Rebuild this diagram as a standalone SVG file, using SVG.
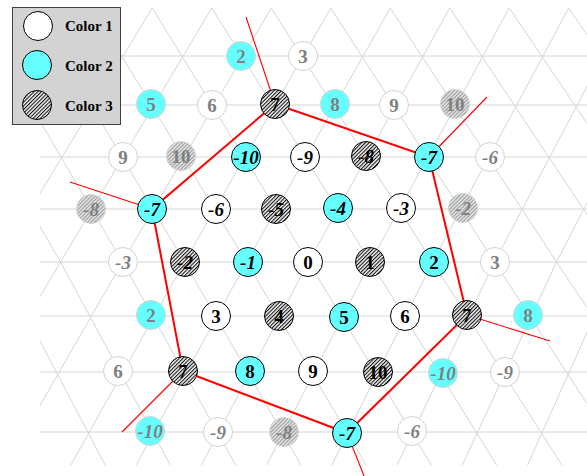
<svg xmlns="http://www.w3.org/2000/svg" width="587" height="476" viewBox="0 0 587 476">
<style>
text{font-family:"Liberation Serif","Times New Roman",serif;font-weight:bold;font-size:19px;text-anchor:middle}
.neg{font-style:italic}
.in circle{stroke:#000;stroke-width:1}
.out circle{stroke:#d2d2d2;stroke-width:1}
.in text{fill:#000}
.out text{fill:#808080}
.w{fill:#fff}
.c{fill:#66ffff}
.h{fill:url(#hatch)}
.hg{fill:url(#hatchg)}
.grid{fill:none;stroke:#d6d6d6;stroke-width:1}
.thick{stroke:#ff0000;stroke-width:2;fill:none}
.thin{stroke:#ff0000;stroke-width:1.1;fill:none}
.leg{font-size:15px;text-anchor:start;fill:#000}
</style>
<defs>
<pattern id="hatch" patternUnits="userSpaceOnUse" width="2.6" height="2.6" patternTransform="rotate(45)">
<rect width="2.6" height="2.6" fill="#f2f2f2"/>
<line x1="0.5" y1="0" x2="0.5" y2="2.6" stroke="#111" stroke-width="1.1"/>
</pattern>
<pattern id="hatchg" patternUnits="userSpaceOnUse" width="2.6" height="2.6" patternTransform="rotate(45)">
<rect width="2.6" height="2.6" fill="#e4e4e4"/>
<line x1="0.5" y1="0" x2="0.5" y2="2.6" stroke="#9a9a9a" stroke-width="1.1"/>
</pattern>
<clipPath id="gclip"><rect x="40" y="8" width="547" height="457"/></clipPath>
</defs>
<rect width="587" height="476" fill="#fff"/>
<g id="lattice" clip-path="url(#gclip)">
<path class="grid" d="M40 56H587M40 105H587M40 157H587M40 209H587M40 262H587M40 316H587M40 372H587M40 432H587
M-145.25 8L-1.5 262L120.4 494M-85.75 8L60.5 262L186.1 494M-26.25 8L122.5 262L251.8 494M33.25 8L184.5 262L317.5 494M92.75 8L246.5 262L383.2 494M152.25 8L308.5 262L448.9 494M211.75 8L370.5 262L514.6 494M271.25 8L432.5 262L580.3 494M330.75 8L494.5 262L646 494M390.25 8L556.5 262L711.7 494M449.75 8L618.5 262M509.25 8L680.5 262M568.75 8L742.5 262
M33.25 8L-125.5 262M92.75 8L-63.5 262M152.25 8L-1.5 262L-142.4 494M211.75 8L60.5 262L-76.7 494M271.25 8L122.5 262L-11 494M330.75 8L184.5 262L54.7 494M390.25 8L246.5 262L120.4 494M449.75 8L308.5 262L186.1 494M509.25 8L370.5 262L251.8 494M568.75 8L432.5 262L317.5 494M628.25 8L494.5 262L383.2 494M687.75 8L556.5 262L448.9 494M747.25 8L618.5 262L514.6 494M806.75 8L680.5 262L580.3 494"/>
</g>
<g id="connectors">
<path class="thick" d="M275 104L429 157L467 315L347 433L183 371L152 209Z"/>
<path class="thin" d="M275 104L246 17M429 157L487 97M467 315L550 341M347 433L364 476M183 371L122 432M152 209L70 182"/>
</g>
<g id="legend">
<rect x="12.5" y="7.5" width="108" height="117" fill="#d3d3d3" stroke="#404040" stroke-width="1"/>
<circle cx="38" cy="26" r="14.5" fill="#fff" stroke="#000"/>
<circle cx="37" cy="65" r="14.5" fill="#66ffff" stroke="#000"/>
<circle cx="37" cy="105" r="14.5" fill="url(#hatch)" stroke="#000"/>
<text class="leg" x="65" y="31">Color 1</text>
<text class="leg" x="65" y="71">Color 2</text>
<text class="leg" x="65" y="111">Color 3</text>
</g>
<g id="nodes">
<g id="o-a2" class="out"><circle class="c" cx="241" cy="56" r="14.5"/><text x="241" y="62.5">2</text></g>
<g id="o-a3" class="out"><circle class="w" cx="303" cy="56" r="14.5"/><text x="303" y="62.5">3</text></g>
<g id="o-b5" class="out"><circle class="c" cx="151" cy="104" r="14.5"/><text x="151" y="110.5">5</text></g>
<g id="o-b6" class="out"><circle class="w" cx="212" cy="105" r="14.5"/><text x="212" y="111.5">6</text></g>
<g id="i-b7" class="in"><circle class="h" cx="275" cy="104" r="14.5"/><text x="275" y="110.5">7</text></g>
<g id="o-b8" class="out"><circle class="c" cx="335" cy="104" r="14.5"/><text x="335" y="110.5">8</text></g>
<g id="o-b9" class="out"><circle class="w" cx="394" cy="105" r="14.5"/><text x="394" y="111.5">9</text></g>
<g id="o-b10" class="out"><circle class="hg" cx="455" cy="104" r="14.5"/><text x="455" y="110.5">10</text></g>
<g id="o-c9" class="out"><circle class="w" cx="123" cy="157" r="14.5"/><text x="123" y="163.5">9</text></g>
<g id="o-c10" class="out"><circle class="hg" cx="181" cy="156" r="14.5"/><text x="181" y="162.5">10</text></g>
<g id="i-cm10" class="in"><circle class="c" cx="246" cy="157" r="14.5"/><text class="neg" x="246" y="163.5">-10</text></g>
<g id="i-cm9" class="in"><circle class="w" cx="305" cy="157" r="14.5"/><text class="neg" x="305" y="163.5">-9</text></g>
<g id="i-cm8" class="in"><circle class="h" cx="366" cy="156" r="14.5"/><text class="neg" x="366" y="162.5">-8</text></g>
<g id="i-cm7" class="in"><circle class="c" cx="429" cy="157" r="14.5"/><text class="neg" x="429" y="163.5">-7</text></g>
<g id="o-cm6" class="out"><circle class="w" cx="490" cy="157" r="14.5"/><text class="neg" x="490" y="163.5">-6</text></g>
<g id="o-dm8" class="out"><circle class="hg" cx="91" cy="209" r="14.5"/><text class="neg" x="91" y="215.5">-8</text></g>
<g id="i-dm7" class="in"><circle class="c" cx="152" cy="209" r="14.5"/><text class="neg" x="152" y="215.5">-7</text></g>
<g id="i-dm6" class="in"><circle class="w" cx="216" cy="209" r="14.5"/><text class="neg" x="216" y="215.5">-6</text></g>
<g id="i-dm5" class="in"><circle class="h" cx="276" cy="209" r="14.5"/><text class="neg" x="276" y="215.5">-5</text></g>
<g id="i-dm4" class="in"><circle class="c" cx="338" cy="208" r="14.5"/><text class="neg" x="338" y="214.5">-4</text></g>
<g id="i-dm3" class="in"><circle class="w" cx="401" cy="208" r="14.5"/><text class="neg" x="401" y="214.5">-3</text></g>
<g id="o-dm2" class="out"><circle class="hg" cx="463" cy="208" r="14.5"/><text class="neg" x="463" y="214.5">-2</text></g>
<g id="o-em3" class="out"><circle class="w" cx="123" cy="262" r="14.5"/><text class="neg" x="123" y="268.5">-3</text></g>
<g id="i-em2" class="in"><circle class="h" cx="185" cy="262" r="14.5"/><text class="neg" x="185" y="268.5">-2</text></g>
<g id="i-em1" class="in"><circle class="c" cx="248" cy="262" r="14.5"/><text class="neg" x="248" y="268.5">-1</text></g>
<g id="i-e0" class="in"><circle class="w" cx="308" cy="262" r="14.5"/><text x="308" y="268.5">0</text></g>
<g id="i-e1" class="in"><circle class="h" cx="370" cy="262" r="14.5"/><text x="370" y="268.5">1</text></g>
<g id="i-e2" class="in"><circle class="c" cx="434" cy="262" r="14.5"/><text x="434" y="268.5">2</text></g>
<g id="o-e3" class="out"><circle class="w" cx="495" cy="262" r="14.5"/><text x="495" y="268.5">3</text></g>
<g id="o-f2" class="out"><circle class="c" cx="151" cy="315" r="14.5"/><text x="151" y="321.5">2</text></g>
<g id="i-f3" class="in"><circle class="w" cx="216" cy="316" r="14.5"/><text x="216" y="322.5">3</text></g>
<g id="i-f4" class="in"><circle class="h" cx="279" cy="316" r="14.5"/><text x="279" y="322.5">4</text></g>
<g id="i-f5" class="in"><circle class="c" cx="344" cy="317" r="14.5"/><text x="344" y="323.5">5</text></g>
<g id="i-f6" class="in"><circle class="w" cx="405" cy="316" r="14.5"/><text x="405" y="322.5">6</text></g>
<g id="i-f7" class="in"><circle class="h" cx="467" cy="315" r="14.5"/><text x="467" y="321.5">7</text></g>
<g id="o-f8" class="out"><circle class="c" cx="528" cy="315" r="14.5"/><text x="528" y="321.5">8</text></g>
<g id="o-g6" class="out"><circle class="w" cx="118" cy="371" r="14.5"/><text x="118" y="377.5">6</text></g>
<g id="i-g7" class="in"><circle class="h" cx="183" cy="371" r="14.5"/><text x="183" y="377.5">7</text></g>
<g id="i-g8" class="in"><circle class="c" cx="250" cy="371" r="14.5"/><text x="250" y="377.5">8</text></g>
<g id="i-g9" class="in"><circle class="w" cx="313" cy="371" r="14.5"/><text x="313" y="377.5">9</text></g>
<g id="i-g10" class="in"><circle class="h" cx="378" cy="372" r="14.5"/><text x="378" y="378.5">10</text></g>
<g id="o-gm10" class="out"><circle class="c" cx="443" cy="373" r="14.5"/><text class="neg" x="443" y="379.5">-10</text></g>
<g id="o-gm9" class="out"><circle class="w" cx="505" cy="372" r="14.5"/><text class="neg" x="505" y="378.5">-9</text></g>
<g id="o-hm10" class="out"><circle class="c" cx="150" cy="431" r="14.5"/><text class="neg" x="150" y="437.5">-10</text></g>
<g id="o-hm9" class="out"><circle class="w" cx="218" cy="432" r="14.5"/><text class="neg" x="218" y="438.5">-9</text></g>
<g id="o-hm8" class="out"><circle class="hg" cx="284" cy="432" r="14.5"/><text class="neg" x="284" y="438.5">-8</text></g>
<g id="i-hm7" class="in"><circle class="c" cx="347" cy="433" r="14.5"/><text class="neg" x="347" y="439.5">-7</text></g>
<g id="o-hm6" class="out"><circle class="w" cx="412" cy="431" r="14.5"/><text class="neg" x="412" y="437.5">-6</text></g>
</g>
</svg>
